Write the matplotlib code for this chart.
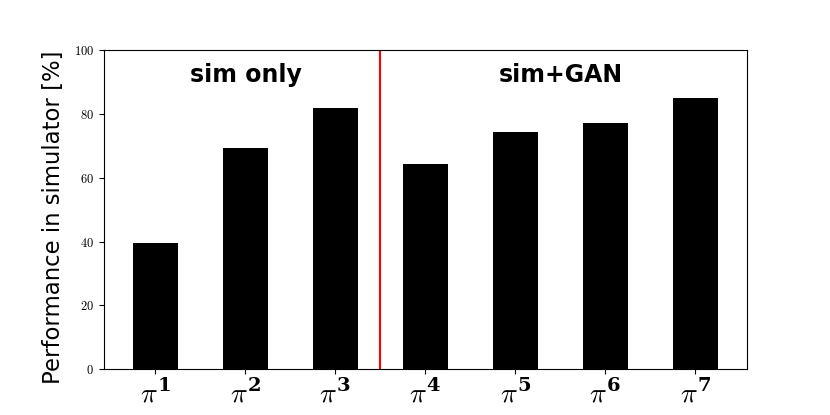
import matplotlib
matplotlib.use('Agg')
import matplotlib.pyplot as plt

plt.rcParams['mathtext.fontset'] = 'custom'
plt.rcParams['mathtext.rm'] = 'cmr10'
plt.rcParams['mathtext.it'] = 'cmmi10'
plt.rcParams['mathtext.bf'] = 'DejaVu Serif:bold'

policies = ['$\\pi^{\\mathbf{1}}$', '$\\pi^{\\mathbf{2}}$', '$\\pi^{\\mathbf{3}}$',
            '$\\pi^{\\mathbf{4}}$', '$\\pi^{\\mathbf{5}}$', '$\\pi^{\\mathbf{6}}$',
            '$\\pi^{\\mathbf{7}}$']
performance = [39.5, 69.3, 81.8, 64.3, 74.2, 77.2, 85.0]
y_ticks = [0, 20, 40, 60, 80, 100]

fig, ax = plt.subplots(figsize=(8.3, 4.15), dpi=100)

ax.bar(range(len(policies)), performance, width=0.5, color='black')
ax.axvline(2.5, color='red', linewidth=1.5)

ax.set_ylim(0, 100)
ax.set_yticks(y_ticks)
ax.set_yticklabels(['$\\mathrm{%d}$' % t for t in y_ticks], fontsize=9)
ax.set_xticks(range(len(policies)))
ax.set_xticklabels(policies, fontsize=20)

ax.set_ylabel('Performance in simulator [%]', fontsize=16.4)
ax.yaxis.set_label_coords(-0.06, 0.477)

ax.text(1, 92, 'sim only', ha='center', va='center',
        fontsize=17, fontweight='bold')
ax.text(4.5, 92, 'sim+GAN', ha='center', va='center',
        fontsize=17, fontweight='bold')

fig.savefig('out.png', dpi=100)
